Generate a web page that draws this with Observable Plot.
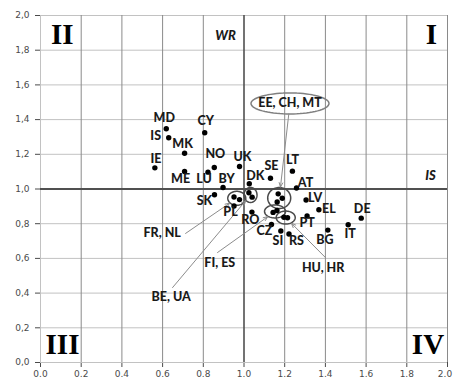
<!DOCTYPE html>
<html><head><meta charset="utf-8">
<script src="https://cdn.jsdelivr.net/npm/d3@7"></script>
<script src="https://cdn.jsdelivr.net/npm/@observablehq/plot@0.6"></script>
<style>
html,body{margin:0;padding:0;background:#fff;}
#chart svg{display:block;overflow:visible;}
</style></head><body><div id="chart"></div>
<script>
// ---- data ----
const countries = ["MD","IS","MK","CY","IE","ME","NO","LU","BY","SK","UK","DK","SE","LT","AT","LV","EL","PT","BG","IT","DE","SI","RS","CZ","RO","PL"];
const countryX  = [0.618,0.630,0.708,0.807,0.562,0.708,0.854,0.823,0.897,0.855,0.978,1.026,1.130,1.238,1.258,1.305,1.368,1.310,1.412,1.512,1.576,1.181,1.221,1.135,1.039,0.951];
const countryY  = [1.347,1.295,1.206,1.324,1.122,1.101,1.124,1.097,1.009,0.967,1.130,1.030,1.062,1.103,1.006,0.937,0.880,0.844,0.763,0.794,0.832,0.758,0.741,0.795,0.867,0.902];

const groupNames   = ["FR, NL","BE, UA","EE, CH, MT","FI, ES","HU, HR"];
const groupMembers = [["FR","NL"],["BE","UA"],["EE","CH","MT"],["FI","ES"],["HU","HR"]];
const memberX = [[0.951,0.978],[1.024,1.040],[1.168,1.188,1.163],[1.143,1.162],[1.196,1.214]];
const memberY = [[0.954,0.939],[0.978,0.953],[0.972,0.947,0.925],[0.865,0.876],[0.837,0.834]];
const groupLabelX = [0.598,0.642,1.226,0.881,1.389];
const groupLabelY = [0.745,0.376,1.493,0.572,0.546];
const leaderStartX = [0.713,0.649,null,0.870,1.400];
const leaderStartY = [0.744,0.432,null,0.634,0.605];

const quadrants = ["I","II","III","IV"];
const quadrantX = [1.921,0.107,0.108,1.904];
const quadrantY = [1.890,1.890,0.104,0.104];
const axisNames = ["WR","IS"];
const axisNameX = [0.909,1.916];
const axisNameY = [1.885,1.078];

const xTicks = [0,0.2,0.4,0.6,0.8,1.0,1.2,1.4,1.6,1.8,2.0];
const yTicks = [0,0.2,0.4,0.6,0.8,1.0,1.2,1.4,1.6,1.8,2.0];

// ---- layout / style ----
const W = 453, H = 381, mL = 40, mR = 6, mT = 15, mB = 19;
const kx = (W - mL - mR) / 2, ky = (H - mT - mB) / 2; // px per unit
const labelDX = [-2,-13,-2,1,1,-4,1,-4,3.5,-10,3,6,1,0,9,9,10,0,-3,2,1,-3,7.5,-7,-1.5,-3.5];
const labelDY = [-11,-2,-9,-12,-9,8,-13,7,-8,6,-9,-8,-12,-11,-5,-2,-1,7,10,9,-9,10,7,6,8,5.5];
const ellRX = [9,6.5,11.5,10.5,9.5];
const ellRY = [7,7.5,10.5,6.5,6.5];
const labelEllRX = 39, labelEllRY = 10.5;

const pts = countries.map((c,i)=>({c, x:countryX[i], y:countryY[i]}));
groupMembers.forEach((g,gi)=>g.forEach((c,j)=>pts.push({c, x:memberX[gi][j], y:memberY[gi][j]})));
const labels = countries.map((c,i)=>({c, x:countryX[i]+labelDX[i]/kx, y:countryY[i]-labelDY[i]/ky}));

const centers = groupNames.map((g,i)=>({g, x:d3.mean(memberX[i]), y:d3.mean(memberY[i])}));
function ellipse(cx, cy, rx, ry, key){
  const out=[]; for(let k=0;k<72;k++){const t=2*Math.PI*k/72; out.push({key, x:cx+rx/kx*Math.cos(t), y:cy+ry/ky*Math.sin(t)});} return out;
}
let ells = [];
centers.forEach((c,i)=>{ ells = ells.concat(ellipse(c.x,c.y,ellRX[i],ellRY[i],c.g)); });
const labelEll = ellipse(groupLabelX[2], groupLabelY[2], labelEllRX, labelEllRY, "lab");

function edgeR(dx, dy, rx, ry){ const L=Math.hypot(dx,dy); const c=dx/L, s=dy/L; return 1/Math.sqrt((c/rx)**2+(s/ry)**2); }
const arrows = centers.map((c,i)=>{
  let sx, sy;
  const cpx = c.x*kx, cpy = -c.y*ky;
  if (leaderStartX[i] == null) {
    const lpx = groupLabelX[i]*kx, lpy = -groupLabelY[i]*ky;
    const dx = cpx-lpx, dy = cpy-lpy, L = Math.hypot(dx,dy);
    const r = edgeR(dx,dy,labelEllRX,labelEllRY);
    sx = (lpx + dx/L*r)/kx; sy = -(lpy + dy/L*r)/ky;
  } else { sx = leaderStartX[i]; sy = leaderStartY[i]; }
  const spx = sx*kx, spy = -sy*ky;
  const dx = cpx-spx, dy = cpy-spy, L = Math.hypot(dx,dy);
  const r = edgeR(dx,dy,ellRX[i],ellRY[i]) + 0.5;
  return {x1:sx, y1:sy, x2:(cpx-dx/L*r)/kx, y2:-(cpy-dy/L*r)/ky};
});
const groupLabels = groupNames.map((g,i)=>({g, x:groupLabelX[i], y:groupLabelY[i]}));

const fmtY = d => d.toFixed(1).replace(".", ",");
const fmtX = d => d.toFixed(1);
const LBL = "Lato, 'Open Sans', sans-serif";

const chart = Plot.plot({
  width: W, height: H, marginLeft: mL, marginRight: mR, marginTop: mT, marginBottom: mB,
  style: {fontFamily: "'DejaVu Sans', sans-serif", fontSize: "9px", color: "#4a4a4a", background: "#fff"},
  x: {domain:[0,2], ticks: xTicks, tickFormat: fmtX, tickSize: 5, tickPadding: 3, label: null},
  y: {domain:[0,2], ticks: yTicks, tickFormat: fmtY, tickSize: 5, tickPadding: 6, label: null},
  marks: [
    Plot.ruleY(yTicks.filter(d=>d!==1), {stroke:"#c2c2c2", strokeWidth:1}),
    Plot.ruleX(xTicks.filter(d=>d!==1 && d!==0), {stroke:"#8a8a8a", strokeWidth:1}),
    Plot.ruleX([0], {stroke:"#c2c2c2", strokeWidth:1}),
    Plot.ruleX([1], {stroke:"#505050", strokeWidth:1.6}),
    Plot.ruleY([1], {stroke:"#505050", strokeWidth:1.8}),
    Plot.line(ells, {x:"x", y:"y", z:"key", curve:"linear-closed", stroke:"#4a4a4a", strokeWidth:1.5, fill:"none"}),
    Plot.line(labelEll, {x:"x", y:"y", z:"key", curve:"linear-closed", stroke:"#808080", strokeWidth:1.5, fill:"none"}),
    Plot.arrow(arrows, {x1:"x1", y1:"y1", x2:"x2", y2:"y2", stroke:"#8c8c8c", strokeWidth:1, headLength:7, headAngle:45}),
    Plot.dot(pts, {x:"x", y:"y", r:2.7, fill:"#000", stroke:"none"}),
    Plot.text(labels, {x:"x", y:"y", text:"c", fontFamily:LBL, fontWeight:900, fontSize:12.5, fill:"#1a1a1a"}),
    Plot.text(groupLabels, {x:"x", y:"y", text:"g", fontFamily:LBL, fontWeight:900, fontSize:12.5, fill:"#1a1a1a"}),
    Plot.text(quadrants.map((q,i)=>({q, x:quadrantX[i], y:quadrantY[i]})), {x:"x", y:"y", text:"q", fontFamily:"'Liberation Serif', 'Times New Roman', serif", fontWeight:"bold", fontSize:29, fill:"#000"}),
    Plot.text(axisNames.map((a,i)=>({a, x:axisNameX[i], y:axisNameY[i]})), {x:"x", y:"y", text:"a", fontFamily:LBL, fontWeight:900, fontStyle:"italic", fontSize:13, fill:"#1a1a1a"})
  ]
});
// keep the last x tick label inside the window
d3.select(chart).selectAll("text").filter(function(){ return this.textContent === "2.0"; }).attr("dx", -2.5);
document.getElementById("chart").appendChild(chart);
</script></body></html>
